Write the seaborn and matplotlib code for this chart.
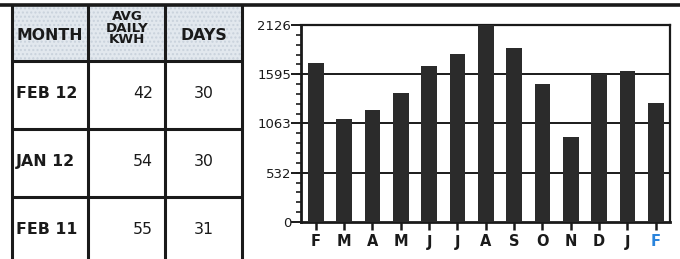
import matplotlib
matplotlib.use("Agg")
import matplotlib.pyplot as plt
import seaborn as sns
from matplotlib.patches import Rectangle

# chart data
periods = ["FEB 11", "MAR 11", "APR 11", "MAY 11", "JUN 11", "JUL 11", "AUG 11",
           "SEP 11", "OCT 11", "NOV 11", "DEC 11", "JAN 12", "FEB 12"]
month_letters = ["F", "M", "A", "M", "J", "J", "A", "S", "O", "N", "D", "J", "F"]
kwh = [1718, 1107, 1204, 1388, 1686, 1809, 2126, 1874, 1488, 919, 1596, 1629, 1286]
y_ticks = [0, 532, 1063, 1595, 2126]

# table data
table_months = ["FEB 12", "JAN 12", "FEB 11"]
table_avg = [42, 54, 55]
table_days = [30, 30, 31]

sns.set_style("white")
plt.rcParams['font.family'] = ['DejaVu Sans']

W, H = 680, 259
fig = plt.figure(figsize=(6.8, 2.59), dpi=100)

# background axes in pixel coords for the table
bg = fig.add_axes([0, 0, 1, 1])
bg.set_xlim(0, W)
bg.set_ylim(H, 0)
bg.axis("off")

# header fill
bg.add_patch(Rectangle((12, 5), 230, 56, facecolor="#e2e8ee", edgecolor="#c9d2dc",
                       hatch="....", lw=0, zorder=1))

lw = 2.2
bg.plot([0, W], [4.5, 4.5], color="#1a1a1a", lw=2.6, zorder=3)
for x in [12, 88, 165, 242]:
    bg.plot([x, x], [4.5, H], color="#1a1a1a", lw=lw, zorder=3)
for y in [61, 129, 197]:
    bg.plot([12, 242], [y, y], color="#1a1a1a", lw=lw, zorder=3)

hdr = dict(color="#1a1a1a", fontweight="bold", ha="center", va="center", zorder=4)
bg.text(50, 35, "MONTH", fontsize=11.3, **hdr)
bg.text(127, 28, "AVG\nDAILY\nKWH", fontsize=9.6, linespacing=0.85, **hdr)
bg.text(204, 35, "DAYS", fontsize=11.3, **hdr)

row_y = [93.5, 161.5, 229]
for i, y in enumerate(row_y):
    bg.text(16, y, table_months[i], fontsize=11.3, fontweight="bold", color="#1a1a1a",
            ha="left", va="center")
    bg.text(153, y, str(table_avg[i]), fontsize=11.3, color="#1a1a1a",
            ha="right", va="center")
    bg.text(204, y, str(table_days[i]), fontsize=11.3, color="#1a1a1a",
            ha="center", va="center")

# bar chart
ax = fig.add_axes([301 / W, 1 - 222 / H, (670 - 301) / W, (222 - 25) / H])
ax.set_facecolor("white")
sns.barplot(x=periods, y=kwh, order=periods, color="#2b2b2b", width=0.55,
            saturation=1, edgecolor="#2b2b2b", linewidth=0, ax=ax, zorder=3)
ax.set_xlim(-0.52, 12.5)
ax.set_ylim(0, 2126)
ax.set_xlabel("")
ax.set_ylabel("")

for v in y_ticks[1:-1]:
    ax.axhline(v, color="#1a1a1a", lw=1.4, zorder=1)

ax.set_yticks(y_ticks)
ax.set_yticklabels([str(v) for v in y_ticks])
ax.set_yticks([i * 2126 / 20 for i in range(21)], minor=True)
ax.tick_params(axis="y", which="major", direction="out", length=7, width=1.4,
               pad=0, labelsize=9.5, colors="#1a1a1a", left=True)
ax.tick_params(axis="y", which="minor", direction="out", length=3.5, width=1.2,
               colors="#1a1a1a", left=True)
ax.set_xticks(range(len(periods)))
ax.set_xticklabels(month_letters, fontweight="bold")
ax.tick_params(axis="x", direction="out", length=6, width=1.8, pad=3,
               labelsize=10.5, colors="#1a1a1a", bottom=True)
ax.get_xticklabels()[-1].set_color("#2a84dc")

for side, w in [("left", 2.0), ("bottom", 2.0), ("top", 1.6), ("right", 1.6)]:
    ax.spines[side].set_visible(True)
    ax.spines[side].set_color("#1a1a1a")
    ax.spines[side].set_linewidth(w)

fig.savefig("out.png", dpi=100)
